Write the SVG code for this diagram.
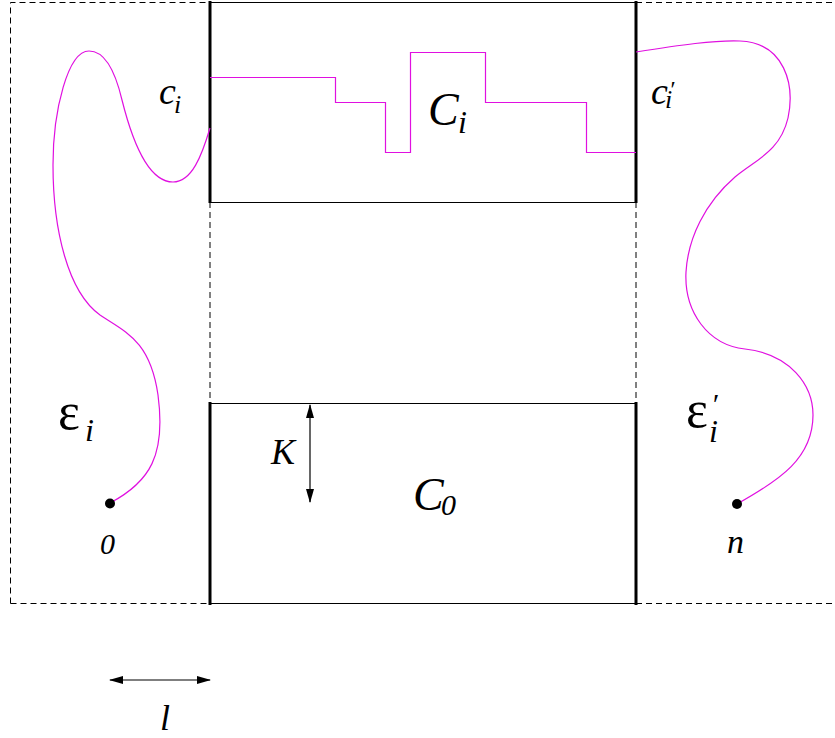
<svg xmlns="http://www.w3.org/2000/svg" width="835" height="738" viewBox="0 0 835 738">
<style>
.dash{fill:none;stroke:#000;stroke-width:1;stroke-dasharray:6,4}
.thin{fill:none;stroke:#000;stroke-width:1.2}
.thick{fill:none;stroke:#000;stroke-width:3}
.mag{fill:none;stroke:#e010e0;stroke-width:1.2}
.t{font-family:"Liberation Serif","DejaVu Serif",serif;font-style:italic;fill:#000}
.g{font-family:"Liberation Serif","DejaVu Serif",serif;fill:#000}
.arr{fill:none;stroke:#000;stroke-width:1.2}
</style>
<defs>
<marker id="ah" markerWidth="14" markerHeight="10" refX="13" refY="5" orient="auto-start-reverse" markerUnits="userSpaceOnUse">
<path d="M0,1 L14,5 L0,9 Z" fill="#000"/>
</marker>
</defs>
<g id="frame">
<path class="dash" d="M10.5,603.5 V2.5 H210 M636,2.5 H835 M10.5,603.5 H210 M636,603.5 H835 M210,202 V403 M636,202 V403"/>
</g>
<g id="box-Ci">
<path class="thin" d="M210,2.5 H636 M210,202.5 H636"/>
<path class="thick" d="M210,1 V203 M636,1 V203"/>
<path class="mag" d="M210,77.5 H335.5 V102.5 H385.5 V152.5 H410.5 V52.5 H485.5 V102.5 H586.5 V152.5 H636"/>
<text class="t" x="428" y="125" font-size="46">C<tspan x="458" y="133" font-size="32">i</tspan></text>
</g>
<g id="box-C0">
<path class="thin" d="M210,403.5 H636 M210,603.5 H636"/>
<path class="thick" d="M210,402 V605 M636,402 V605"/>
<text class="t" x="413" y="510" font-size="46">C<tspan x="441" y="515" font-size="30">0</tspan></text>
</g>
<g id="path-left">
<path class="mag" d="M210,128 C202,155 192,182 173,182 C148,182 132,140 122,100 C114,66 102,51 89,51 C68,51 53,110 53,165 C53,230 68,292 100,315 C125,332 150,340 158,395 C166,455 150,482 110,503"/>
<circle cx="110" cy="503.5" r="5" fill="#000"/>
<text class="t" x="100" y="554" font-size="30">0</text>
<text class="t" x="159" y="104" font-size="38">c<tspan x="174" y="113" font-size="26">i</tspan></text>
<text class="g" x="58" y="429" font-size="52">ε<tspan class="t" x="85" y="441" font-size="32">i</tspan></text>
</g>
<g id="path-right">
<path class="mag" d="M636,52 C680,45 715,40 740,41 C785,43 795,85 788,118 C780,152 755,160 735,177 C705,203 688,238 686,272 C684,312 708,345 745,349 C790,354 813,385 813,415 C813,458 780,480 737,504"/>
<circle cx="737" cy="504" r="5" fill="#000"/>
<text class="t" x="727" y="553" font-size="34">n</text>
<text class="t" x="651" y="104" font-size="38">c<tspan x="669" y="97" font-size="24">′</tspan><tspan x="665" y="108" font-size="26">i</tspan></text>
<text class="g" x="686" y="427" font-size="52">ε<tspan class="t" x="711" y="414" font-size="30">′</tspan><tspan class="t" x="709" y="442" font-size="32">i</tspan></text>
</g>
<g id="connectors">
<line class="arr" x1="310" y1="405" x2="310" y2="502" marker-start="url(#ah)" marker-end="url(#ah)"/>
<line class="arr" x1="110" y1="680" x2="210" y2="680" marker-start="url(#ah)" marker-end="url(#ah)"/>
</g>
<g id="labels">
<text class="t" x="271" y="464" font-size="36">K</text>
<text class="t" x="160" y="730" font-size="36">l</text>
</g>
</svg>
